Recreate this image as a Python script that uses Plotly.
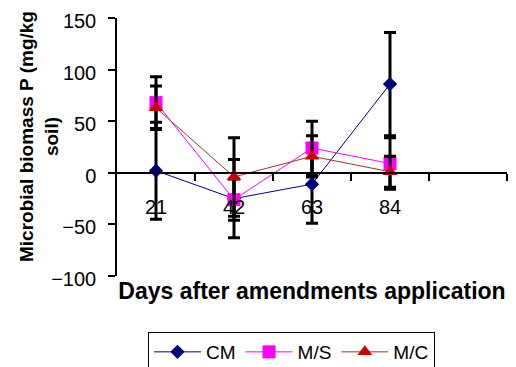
import plotly.graph_objects as go

days = ["21", "42", "63", "84"]
cm = [2, -25, -11, 86]
cm_err = [47, 38, 38, 50]
ms = [68, -26, 24, 9]
ms_err = [25, 20, 26, 25]
mc = [63, -4, 16, 1]
mc_err = [21, 38, 20, 15]
y_ticks = [-100, -50, 0, 50, 100, 150]
y_title = "Microbial biomass P (mg/kg<br>soil)"
x_title = "Days after amendments application"

xpos = list(range(1, len(days) + 1))
FONT = "Liberation Sans, Arial, sans-serif"

def trace(name, y, err, color, line_color, symbol, size):
    return go.Scatter(
        x=xpos, y=y, name=name, mode="lines+markers",
        line=dict(color=line_color, width=1),
        marker=dict(color=color, symbol=symbol, size=size),
        error_y=dict(type="data", array=err, visible=True, color="black",
                     thickness=3, width=6),
    )

fig = go.Figure()
fig.add_trace(trace("CM", cm, cm_err, "#000080", "#000080", "diamond", 11))
fig.add_trace(trace("M/S", ms, ms_err, "#FF00FF", "#FF00FF", "square", 13))
fig.add_trace(trace("M/C", mc, mc_err, "#CC0000", "#A03030", "triangle-up", 13))

# page body has an 8px margin, so the figure is drawn 8px smaller
fig.update_layout(
    width=508, height=359,
    margin=dict(l=109, r=9, t=10, b=91, autoexpand=False),
    paper_bgcolor="white", plot_bgcolor="white",
    font=dict(family=FONT, color="black", size=20),
    showlegend=True,
    legend=dict(orientation="h", xref="container", yref="container",
                x=140 / 508, y=1 - 324 / 359, xanchor="left", yanchor="top",
                bordercolor="black", borderwidth=1, font=dict(size=19),
                itemwidth=47, tracegroupgap=0),
    xaxis=dict(
        range=[0.5, 5.5], tickmode="array", tickvals=xpos, ticktext=days,
        ticks="", showgrid=False, zeroline=False, automargin=False,
        showline=True, linecolor="black", linewidth=1.5,
        anchor="free", position=0.4, ticklabelstandoff=16,
        minor=dict(tickmode="array", tickvals=[1.5, 2.5, 3.5, 4.5, 5.5],
                   ticks="outside", ticklen=7, tickcolor="black", tickwidth=1.5),
        title=dict(text=x_title, font=dict(size=23, weight="bold"), standoff=65),
    ),
    yaxis=dict(
        range=[-100, 150], tickvals=y_ticks, showgrid=False, zeroline=False,
        automargin=False, ticklabelstandoff=8, ticklabeloverflow="allow",
        ticklabelshift=3,
        showline=True, linecolor="black", linewidth=1.5,
        ticks="outside", ticklen=7, tickcolor="black", tickwidth=1.5,
    ),
    annotations=[dict(
        text=y_title, textangle=-90, showarrow=False,
        xref="paper", yref="paper", x=0, y=0.5,
        xanchor="center", yanchor="middle", xshift=-78, yshift=10,
        font=dict(size=19, weight="bold"),
    )],
)

fig.write_html("out.html")
